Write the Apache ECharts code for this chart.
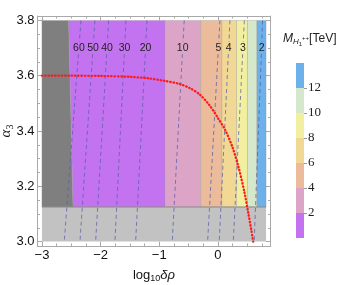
<!DOCTYPE html>
<html><head><meta charset="utf-8">
<script src="https://cdn.jsdelivr.net/npm/echarts@6/dist/echarts.min.js"></script>
<style>html,body{margin:0;padding:0;background:#fff}#c{width:339px;height:285px}</style>
</head><body><div id="c"></div>
<script>
// ---- data ----
const xTicks = [-3, -2, -1, 0];
const xMinorTicks = [-2.75, -2.5, -2.25, -1.75, -1.5, -1.25, -0.75, -0.5, -0.25, 0.25, 0.5, 0.75];
const yTicks = [3.0, 3.2, 3.4, 3.6, 3.8];
const yMinorTicks = [3.05, 3.1, 3.15, 3.25, 3.3, 3.35, 3.45, 3.5, 3.55, 3.65, 3.7, 3.75];

const regionEdgesTop    = [-3, -2.545, -0.90, -0.295, 0.065, 0.318, 0.503, 0.665, 0.82];
const regionEdgesBottom = [-3, -2.470, -0.90, -0.295, 0.065, 0.318, 0.503, 0.665, 0.82];
const regionColors = ['#7f7f7f', '#c373f0', '#dca5c8', '#ebbb9c', '#f2d895', '#f2f0a0', '#d6e8cc', '#6cb1ea'];
const regionYTop = 3.8;
const bandYTop = 3.125;
const bandYBottom = 3.0;

const contourLabels = ['60', '50', '40', '30', '20', '10', '5', '4', '3', '2'];
const contourXTop    = [-2.335, -2.097, -1.863, -1.568, -1.210, -0.575, 0.034, 0.205, 0.450, 0.762];
const contourXBottom = [-2.620, -2.352, -2.085, -1.756, -1.403, -0.779, -0.176, 0.022, 0.262, 0.618];
const contourLabelY = 3.70;

const curveX = [-3, -2.5, -2, -1.5, -1.2, -0.9, -0.65, -0.48, -0.31, -0.14, 0, 0.12, 0.25, 0.35, 0.45, 0.52, 0.57, 0.60];
const curveY = [3.600, 3.600, 3.599, 3.596, 3.591, 3.581, 3.570, 3.555, 3.532, 3.492, 3.447, 3.405, 3.340, 3.270, 3.180, 3.100, 3.040, 3.000];

const cbLevels = [0, 2, 4, 6, 8, 10, 12, 14];
const cbColors = ['#c373f0', '#dca5c8', '#ebbb9c', '#f2d895', '#f2f0a0', '#d6e8cc', '#6cb1ea'];
const cbTickLabels = [2, 4, 6, 8, 10, 12];

// ---- chart ----
const FRAME = '#a9a9a9';
const SANS = 'Liberation Sans, Arial, sans-serif';
const SERIF = 'Liberation Serif, Times New Roman, serif';
const XMIN = -3.076, XMAX = 0.896, YMIN = 2.984, YMAX = 3.816;

function fmtMinus(v) { return String(v).replace('-', '\u2212'); }

function xAx(pos, ticks, len, showLine, showLabel) {
  return {
    type: 'value', gridIndex: 0, position: pos, min: XMIN, max: XMAX,
    axisLine: { show: showLine, onZero: false, lineStyle: { color: FRAME, width: 1 } },
    axisTick: { show: true, inside: true, length: len, customValues: ticks, lineStyle: { color: FRAME } },
    axisLabel: { show: showLabel, customValues: xTicks, formatter: fmtMinus, color: '#111', fontSize: 13, fontFamily: SANS, margin: 3 },
    splitLine: { show: false }
  };
}
function yAx(pos, ticks, len, showLine, showLabel) {
  return {
    type: 'value', gridIndex: 0, position: pos, min: YMIN, max: YMAX,
    axisLine: { show: showLine, onZero: false, lineStyle: { color: FRAME, width: 1 } },
    axisTick: { show: true, inside: true, length: len, customValues: ticks, lineStyle: { color: FRAME } },
    axisLabel: { show: showLabel, customValues: yTicks, formatter: v => v.toFixed(1), color: '#111', fontSize: 13, fontFamily: SANS, margin: 3 },
    splitLine: { show: false }
  };
}

const xAxes = [
  Object.assign(xAx('bottom', xTicks, 4.5, true, true), {
    name: '{a|log}{s|10}{b|\u03b4\u03c1}', nameLocation: 'middle', nameGap: 21, nameMoveOverlap: false,
    nameTextStyle: { rich: {
      a: { fontSize: 13, fontFamily: SANS, color: '#111' },
      s: { fontSize: 9, fontFamily: SANS, color: '#111', padding: [7, 0, 0, 0] },
      b: { fontSize: 13, fontFamily: SANS, fontStyle: 'italic', color: '#111' }
    } }
  }),
  xAx('bottom', xMinorTicks, 2.5, false, false),
  xAx('top', xTicks, 4.5, true, false),
  xAx('top', xMinorTicks, 2.5, false, false),
  { type: 'category', gridIndex: 1, data: ['cb'], show: false }
];
const yAxes = [
  Object.assign(yAx('left', yTicks, 4.5, true, true), {
    name: '{a|\u03b1}{s|3}', nameLocation: 'middle', nameGap: 22, nameRotate: 90, nameMoveOverlap: false,
    nameTextStyle: { rich: {
      a: { fontSize: 15, fontFamily: SERIF, fontStyle: 'italic', color: '#111' },
      s: { fontSize: 10, fontFamily: SERIF, color: '#111', padding: [8, 0, 0, 0] }
    } }
  }),
  yAx('left', yMinorTicks, 2.5, false, false),
  yAx('right', yTicks, 4.5, true, false),
  yAx('right', yMinorTicks, 2.5, false, false),
  {
    type: 'value', gridIndex: 1, position: 'right', min: cbLevels[0], max: cbLevels[cbLevels.length - 1],
    axisLine: { show: false },
    axisTick: { show: true, inside: false, length: 3, customValues: cbTickLabels, lineStyle: { color: '#999' } },
    axisLabel: { show: true, customValues: cbTickLabels, color: '#222', fontSize: 13, fontFamily: SERIF, margin: 4 },
    splitLine: { show: false }
  }
];

const regionData = regionColors.map((c, i) => [regionEdgesTop[i], regionEdgesBottom[i], regionEdgesTop[i + 1], regionEdgesBottom[i + 1]]);
const contourData = contourLabels.map((l, i) => [contourXTop[i], contourXBottom[i]]);

const series = [
  {
    type: 'custom', name: 'regions', xAxisIndex: 0, yAxisIndex: 0, silent: true, z: 1,
    data: regionData,
    renderItem(params, api) {
      const p1 = api.coord([api.value(0), regionYTop]);
      const p2 = api.coord([api.value(2), regionYTop]);
      const p3 = api.coord([api.value(3), bandYTop]);
      const p4 = api.coord([api.value(1), bandYTop]);
      return { type: 'polygon', shape: { points: [p1, p2, p3, p4] },
        style: { fill: regionColors[params.dataIndex], stroke: 'rgba(150,150,150,0.45)', lineWidth: 0.8 } };
    }
  },
  {
    type: 'custom', name: 'band', xAxisIndex: 0, yAxisIndex: 0, silent: true, z: 2,
    data: [[regionEdgesTop[0], regionEdgesTop[regionEdgesTop.length - 1]]],
    renderItem(params, api) {
      const a = api.coord([api.value(0), bandYTop]);
      const b = api.coord([api.value(1), bandYBottom]);
      return { type: 'group', children: [
        { type: 'rect', shape: { x: a[0], y: a[1], width: b[0] - a[0], height: b[1] - a[1] }, style: { fill: '#c2c2c2' } },
        { type: 'line', shape: { x1: a[0], y1: a[1], x2: b[0], y2: a[1] }, style: { stroke: '#8c8c8c', lineWidth: 1 } }
      ] };
    }
  },
  {
    type: 'custom', name: 'contours', xAxisIndex: 0, yAxisIndex: 0, silent: true, z: 3,
    data: contourData,
    renderItem(params, api) {
      const pT = api.coord([api.value(0), regionYTop]);
      const pB = api.coord([api.value(1), bandYBottom]);
      const yl = api.coord([0, contourLabelY])[1];
      const at = y => pT[0] + (y - pT[1]) / (pB[1] - pT[1]) * (pB[0] - pT[0]);
      const gap = 6;
      const ls = { stroke: 'rgba(90,95,170,0.75)', lineWidth: 1, lineDash: [4, 3] };
      return { type: 'group', children: [
        { type: 'line', shape: { x1: pT[0], y1: pT[1], x2: at(yl - gap), y2: yl - gap }, style: ls },
        { type: 'line', shape: { x1: at(yl + gap), y1: yl + gap, x2: pB[0], y2: pB[1] }, style: ls },
        { type: 'text', x: at(yl), y: yl, style: { text: contourLabels[params.dataIndex], fill: '#222', fontSize: 10.5, fontFamily: SANS, align: 'center', verticalAlign: 'middle' } }
      ] };
    }
  },
  {
    type: 'line', name: 'alpha3', xAxisIndex: 0, yAxisIndex: 0, z: 4, silent: true,
    data: curveX.map((x, i) => [x, curveY[i]]),
    showSymbol: false, smooth: 0.3,
    lineStyle: { color: '#ff1a1a', width: 2.3, type: [0.5, 2.8], cap: 'round' }
  }
];
cbColors.forEach((c, i) => {
  series.push({
    type: 'bar', xAxisIndex: 4, yAxisIndex: 4, stack: 'cb', barWidth: '100%', silent: true,
    data: [cbLevels[i + 1] - cbLevels[i]], itemStyle: { color: c }
  });
});

const chart = echarts.init(document.getElementById('c'), null, { renderer: 'canvas' });
chart.setOption({
  animation: false,
  backgroundColor: '#fff',
  grid: [
    { left: 37.5, top: 16, width: 233, height: 230, containLabel: false, outerBoundsMode: 'none' },
    { left: 296, top: 63, width: 8, height: 175, containLabel: false, outerBoundsMode: 'none' }
  ],
  xAxis: xAxes,
  yAxis: yAxes,
  series: series,
  graphic: [{
    type: 'text', left: 283, top: 33,
    style: {
      text: '{m|M}{h|H}{o|1}{p|++}{t|[TeV]}',
      rich: {
        m: { fontSize: 12, fontStyle: 'italic', fontFamily: SANS, fill: '#222' },
        h: { fontSize: 8, fontStyle: 'italic', fontFamily: SANS, fill: '#222', padding: [6, 0, 0, 0] },
        o: { fontSize: 6, fontFamily: SANS, fill: '#222', padding: [11, 0, 0, 0] },
        p: { fontSize: 6, fontFamily: SANS, fill: '#222', padding: [0, 0, 1, 0] },
        t: { fontSize: 12, fontFamily: SANS, fill: '#222' }
      }
    }
  }]
});
</script>
</body></html>
